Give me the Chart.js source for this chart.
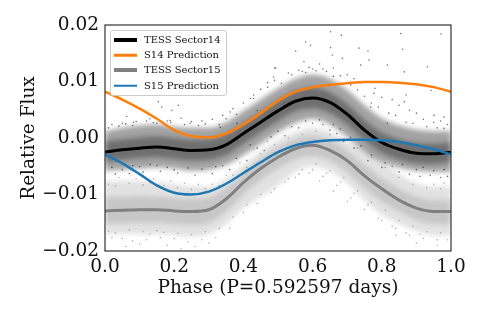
<!DOCTYPE html>
<html>
<head>
<meta charset="utf-8">
<script src="https://cdn.jsdelivr.net/npm/chart.js@4"></script>
<style>
  html, body { margin: 0; background: #fff; }
  #wrap { position: relative; width: 484px; height: 317px; }
  #legend {
    position: absolute; left: 110px; top: 30px; width: 115px; height: 64px;
    background: rgba(255,255,255,0.85); border: 1px solid #ccc; border-radius: 3px;
    font: 10px "DejaVu Serif", serif; color: #111;
  }
  #legend div { position: absolute; left: 33px; white-space: nowrap; line-height: 12px; }
  #legend i { position: absolute; left: -30px; top: 50%; width: 23px; transform: translateY(-50%); }
</style>
</head>
<body>
<div id="wrap">
  <canvas id="chart" width="484" height="317"></canvas>
  <div id="legend"></div>
</div>
<script>
// Values
const phase = [0,0.05,0.1,0.15,0.2,0.25,0.3,0.35,0.4,0.45,0.5,0.55,0.6,0.65,0.7,0.75,0.8,0.85,0.9,0.95,1];
const s14Line = [-.0025,-.0021,-.0018,-.0016,-.0019,-.0022,-.0021,-.0012,.0008,.0028,.0048,.0065,.0071,.0063,.0042,.0014,-.0008,-.0020,-.0027,-.0028,-.0025];
const s14Pred = [.0082,.0068,.0052,.0034,.0014,.0003,.0001,.0008,.0024,.0044,.0066,.0082,.0090,.0094,.0097,.0099,.0099,.0098,.0095,.0090,.0082];
const s15Line = [-.0129,-.0128,-.0127,-.0127,-.0129,-.0130,-.0127,-.0108,-.0079,-.0054,-.0034,-.0019,-.0013,-.0022,-.0040,-.0067,-.0090,-.0110,-.0124,-.0130,-.0130];
const s15Pred = [-.0029,-.0045,-.0064,-.0084,-.0097,-.0100,-.0095,-.0081,-.0062,-.0043,-.0025,-.0013,-.0007,-.0004,-.0003,-.0003,-.0004,-.0007,-.0013,-.0020,-.0029];

// Extent of the point clouds
const s14Top = [.0012,.0018,.0022,.0024,.0020,.0018,.0018,.0028,.0048,.0068,.0088,.0105,.0112,.0105,.0085,.0058,.0035,.0022,.0015,.0012,.0012];
const s14Bottom = [-.0058,-.0056,-.0054,-.0052,-.0054,-.0058,-.0056,-.0048,-.0030,-.0010,.0010,.0026,.0034,.0024,.0002,-.0024,-.0042,-.0052,-.0058,-.0060,-.0060];
const s14CoreTop = [-.0006,-.0002,.0001,.0003,.0000,-.0003,-.0002,.0006,.0026,.0046,.0066,.0083,.0090,.0081,.0060,.0032,.0010,-.0002,-.0009,-.0010,-.0008];
const s14CoreBottom = [-.0043,-.0039,-.0036,-.0034,-.0037,-.0040,-.0039,-.0030,-.0010,.0010,.0030,.0047,.0052,.0044,.0024,-.0004,-.0026,-.0038,-.0045,-.0046,-.0043];
const s15Top = [-.0076,-.0076,-.0076,-.0078,-.0082,-.0086,-.0086,-.0072,-.0048,-.0024,-.0004,.0010,.0018,.0010,-.0006,-.0020,-.0040,-.0064,-.0080,-.0086,-.0086];
const s15Bottom = [-.0170,-.0170,-.0170,-.0170,-.0172,-.0174,-.0170,-.0152,-.0124,-.0104,-.0084,-.0060,-.0050,-.0058,-.0080,-.0110,-.0136,-.0152,-.0164,-.0172,-.0172];
const s15CoreTop = [-.0104,-.0104,-.0103,-.0104,-.0106,-.0108,-.0105,-.0088,-.0062,-.0036,-.0016,-.0002,.0004,-.0004,-.0022,-.0048,-.0071,-.0090,-.0104,-.0110,-.0110];
const s15CoreBottom = [-.0152,-.0151,-.0150,-.0150,-.0152,-.0154,-.0150,-.0130,-.0100,-.0074,-.0054,-.0038,-.0032,-.0040,-.0060,-.0088,-.0112,-.0130,-.0145,-.0152,-.0153];

// Single scattered points that stand out from the clouds
const s14PointX = [.652,.683,.855,.971,.58,.594,.551,.652,.734,.76,.86,.657,.575,.686,.763,.932,.49,.739,.865,.816,.942,.87,.865,.951,.98,.816,.777,.768,.154,.164,.193,.212,.063,.082,.11,.15,.188,.246,.362,.382,.333,.493,.487,.429,.44,
  .60,.62,.64,.66,.70,.72,.74,.78,.80,.83,.85,.88,.90,.92,.95,.97,.99,.53,.56,.58,.47,.45,.42,.40,.37,.34,.31,.28,.25,.22,.18,.13,.09,.05,.02,
  .03,.07,.11,.16,.21,.26,.31,.36,.41,.46,.85,.88,.91,.94,.97,.99,.80,.76,.72,.69,.67,.65,.63,.60,.56,.52];
const s14PointY = [.0188,.0182,.0185,.0184,.0170,.0164,.0154,.0160,.0159,.0154,.0157,.0147,.0135,.0141,.0138,.0126,.0124,.0129,.0117,.0129,.0084,.0076,.0064,.0040,.0037,.0026,.0079,.0055,.0064,.0055,.0049,.0058,.0038,.0028,.0049,.0026,.0031,.0026,.0046,.0026,.0019,.0124,.0108,.0070,.0049,
  .0122,.0131,.0118,.0124,.0112,.0105,.0098,.0088,.0072,.0068,.0058,.0049,.0044,.0033,.0028,.0030,.0024,.0115,.0120,.0116,.0098,.0086,.0070,.0062,.0052,.0040,.0033,.0030,.0029,.0035,.0030,.0034,.0029,.0026,.0024,
  -.0064,-.0063,-.0060,-.0059,-.0062,-.0066,-.0063,-.0056,-.0040,-.0022,-.0060,-.0064,-.0068,-.0066,-.0070,-.0068,-.0052,-.0040,-.0018,-.0006,.0008,.0014,.0024,.0026,.0018,.0004];
// Points along the edges of the dark cloud
const s14EdgeX = [.01,.04,.06,.08,.12,.14,.17,.19,.23,.27,.29,.33,.35,.38,.43,.47,.49,.51,.54,.57,.59,.61,.63,.66,.68,.71,.73,.75,.77,.79,.82,.84,.87,.89,.93,.96,.98,
  .02,.05,.08,.10,.13,.15,.18,.20,.24,.28,.32,.34,.38,.42,.44,.48,.50,.54,.58,.62,.66,.68,.71,.74,.77,.81,.83,.86,.90,.92,.95,.98];
const s14EdgeY = [.0018,.0021,.0025,.0022,.0030,.0027,.0026,.0028,.0024,.0022,.0025,.0024,.0034,.0042,.0076,.0090,.0102,.0097,.0112,.0118,.0125,.0119,.0122,.0109,.0110,.0094,.0085,.0074,.0062,.0055,.0044,.0040,.0028,.0026,.0020,.0018,.0017,
  -.0052,-.0056,-.0049,-.0051,-.0047,-.0049,-.0052,-.0056,-.0053,-.0055,-.0051,-.0049,-.0036,-.0012,-.0018,.0002,.0012,.0020,.0030,.0032,.0024,.0016,.0001,-.0014,-.0030,-.0044,-.0050,-.0047,-.0056,-.0052,-.0058,-.0056];
const s15PointX = [.02,.05,.08,.12,.16,.20,.24,.28,.32,.36,.40,.44,.48,.52,.56,.60,.64,.68,.72,.76,.80,.84,.88,.92,.96,.99,
  .04,.09,.14,.19,.23,.27,.31,.35,.39,.43,.47,.51,.55,.59,.63,.67,.71,.75,.79,.83,.87,.91,.95,.98,
  .06,.10,.18,.22,.26,.30,.62,.66,.70,.84,.90,.96,
  .01,.03,.07,.11,.13,.15,.17,.21,.25,.29,.33,.37,.41,.45,.49,.53,.57,.61,.65,.69,.73,.77,.81,.85,.89,.93,.97,
  .01,.03,.07,.11,.13,.15,.17,.21,.25,.29,.33,.37,.41,.45,.49,.53,.57,.61,.65,.69,.73,.77,.81,.85,.89,.93,.97];
const s15PointY = [-.0176,-.0178,-.0182,-.0180,-.0176,-.0178,-.0184,-.0180,-.0176,-.0160,-.0132,-.0116,-.0096,-.0078,-.0064,-.0056,-.0062,-.0078,-.0098,-.0118,-.0146,-.0160,-.0172,-.0178,-.0180,-.0180,
  -.0070,-.0072,-.0072,-.0076,-.0080,-.0082,-.0082,-.0066,-.0044,-.0020,-.0006,-.0030,-.0070,-.0062,-.0068,-.0084,-.0106,-.0126,-.0142,-.0156,-.0168,-.0170,-.0082,-.0080,
  -.0192,-.0188,-.0190,-.0196,-.0192,-.0186,-.0076,-.0094,-.0112,-.0172,-.0186,-.0190,
  -.0082,-.0085,-.0080,-.0083,-.0079,-.0086,-.0084,-.0088,-.0091,-.0090,-.0084,-.0066,-.0052,-.0028,-.0012,.0000,.0006,.0012,.0006,-.0004,-.0018,-.0034,-.0052,-.0070,-.0082,-.0088,-.0090,
  -.0165,-.0168,-.0163,-.0166,-.0170,-.0164,-.0167,-.0169,-.0171,-.0166,-.0160,-.0140,-.0118,-.0100,-.0090,-.0072,-.0056,-.0046,-.0058,-.0070,-.0094,-.0114,-.0128,-.0146,-.0156,-.0166,-.0168];
const xTicks = [0,0.2,0.4,0.6,0.8,1];
const yTicks = [-0.02,-0.01,0,0.01,0.02];

const pairs = (xs, ys) => xs.map((x, i) => ({ x: x, y: ys[i] }));

function band(values, color, fillTo, order) {
  return {
    type: "line", isBand: true, data: pairs(phase, values), order: order, pointRadius: 0, borderWidth: 0,
    cubicInterpolationMode: "monotone", fill: fillTo, backgroundColor: color
  };
}
function curve(label, values, color, width, order) {
  return {
    type: "line", label: label, data: pairs(phase, values), order: order, pointRadius: 0,
    borderColor: color, borderWidth: width, cubicInterpolationMode: "monotone", fill: false
  };
}
function dots(xs, ys, color, order) {
  return {
    type: "scatter", data: pairs(xs, ys), order: order, pointRadius: 0.8,
    pointBorderWidth: 0, pointBackgroundColor: color
  };
}

// Frame around the plot, all four sides like the original
const framePlugin = {
  id: "frame",
  beforeDatasetsDraw(chart) {
    // soft edges on the cloud bands
    chart.ctx.filter = "blur(2.5px)";
  },
  beforeDatasetDraw(chart, args) {
    if (!chart.data.datasets[args.index].isBand) chart.ctx.filter = "none";
  },
  afterDatasetsDraw(chart) {
    const a = chart.chartArea, c = chart.ctx;
    c.save();
    c.filter = "none";
    c.strokeStyle = "#333";
    c.lineWidth = 1.2;
    c.strokeRect(a.left, a.top, a.right - a.left, a.bottom - a.top);
    c.restore();
  }
};

const series = [
  { label: "TESS Sector14", color: "#000000", width: 4 },
  { label: "S14 Prediction", color: "#ff7f0e", width: 2.5 },
  { label: "TESS Sector15", color: "#808080", width: 4 },
  { label: "S15 Prediction", color: "#1f77b4", width: 2.5 }
];

new Chart(document.getElementById("chart"), {
  data: {
    datasets: [
      band(s15Top, "rgba(160,160,160,0.30)", "+1", 20),
      band(s15Bottom, "transparent", false, 20),
      band(s15CoreTop, "rgba(150,150,150,0.35)", "+1", 19),
      band(s15CoreBottom, "transparent", false, 19),
      band(s14Top, "rgba(0,0,0,0.36)", "+1", 17),
      band(s14Bottom, "transparent", false, 17),
      band(s14CoreTop, "rgba(0,0,0,0.32)", "+1", 16),
      band(s14CoreBottom, "transparent", false, 16),
      dots(s15PointX, s15PointY, "rgba(130,130,130,0.6)", 15),
      dots(s14PointX, s14PointY, "rgba(0,0,0,0.55)", 14),
      dots(s14EdgeX, s14EdgeY, "rgba(0,0,0,0.55)", 13),
      curve(series[2].label, s15Line, series[2].color, 3, 4),
      curve(series[0].label, s14Line, series[0].color, 3, 3),
      curve(series[3].label, s15Pred, series[3].color, 2.5, 2),
      curve(series[1].label, s14Pred, series[1].color, 2.5, 1)
    ]
  },
  plugins: [framePlugin],
  options: {
    responsive: false,
    animation: false,
    layout: { padding: { top: 25, right: 33, left: 18, bottom: 18 } },
    plugins: { legend: { display: false }, tooltip: { enabled: false } },
    scales: {
      x: {
        type: "linear", min: 0, max: 1,
        afterBuildTicks: s => { s.ticks = xTicks.map(v => ({ value: v })); },
        afterFit: s => { s.height = 48; },
        grid: { display: false, drawTicks: true, tickLength: 4, tickColor: "#333" },
        border: { display: false },
        ticks: { color: "#111", font: { family: "DejaVu Serif", size: 18.5 }, maxRotation: 0, padding: 1, callback: v => v.toFixed(1) },
        title: { display: true, text: "Phase (P=0.592597 days)", color: "#111", font: { family: "DejaVu Serif", size: 18.5 }, padding: 0 }
      },
      y: {
        min: -0.02, max: 0.02,
        afterBuildTicks: s => { s.ticks = yTicks.map(v => ({ value: v })); },
        afterFit: s => { s.width = 87; },
        grid: { display: false, drawTicks: true, tickLength: 4, tickColor: "#333" },
        border: { display: false },
        ticks: { color: "#111", font: { family: "DejaVu Serif", size: 18.5 }, padding: 2, callback: v => v.toFixed(2).replace("-", "\u2212") },
        title: { display: true, text: "Relative Flux", color: "#111", font: { family: "DejaVu Serif", size: 18.5 }, padding: 0 }
      }
    }
  }
});

// Legend box
const legend = document.getElementById("legend");
series.forEach((s, i) => {
  const row = document.createElement("div");
  row.style.top = (3 + i * 15.2) + "px";
  row.textContent = s.label;
  const key = document.createElement("i");
  key.style.height = s.width + "px";
  key.style.background = s.color;
  row.appendChild(key);
  legend.appendChild(row);
});
</script>
</body>
</html>
